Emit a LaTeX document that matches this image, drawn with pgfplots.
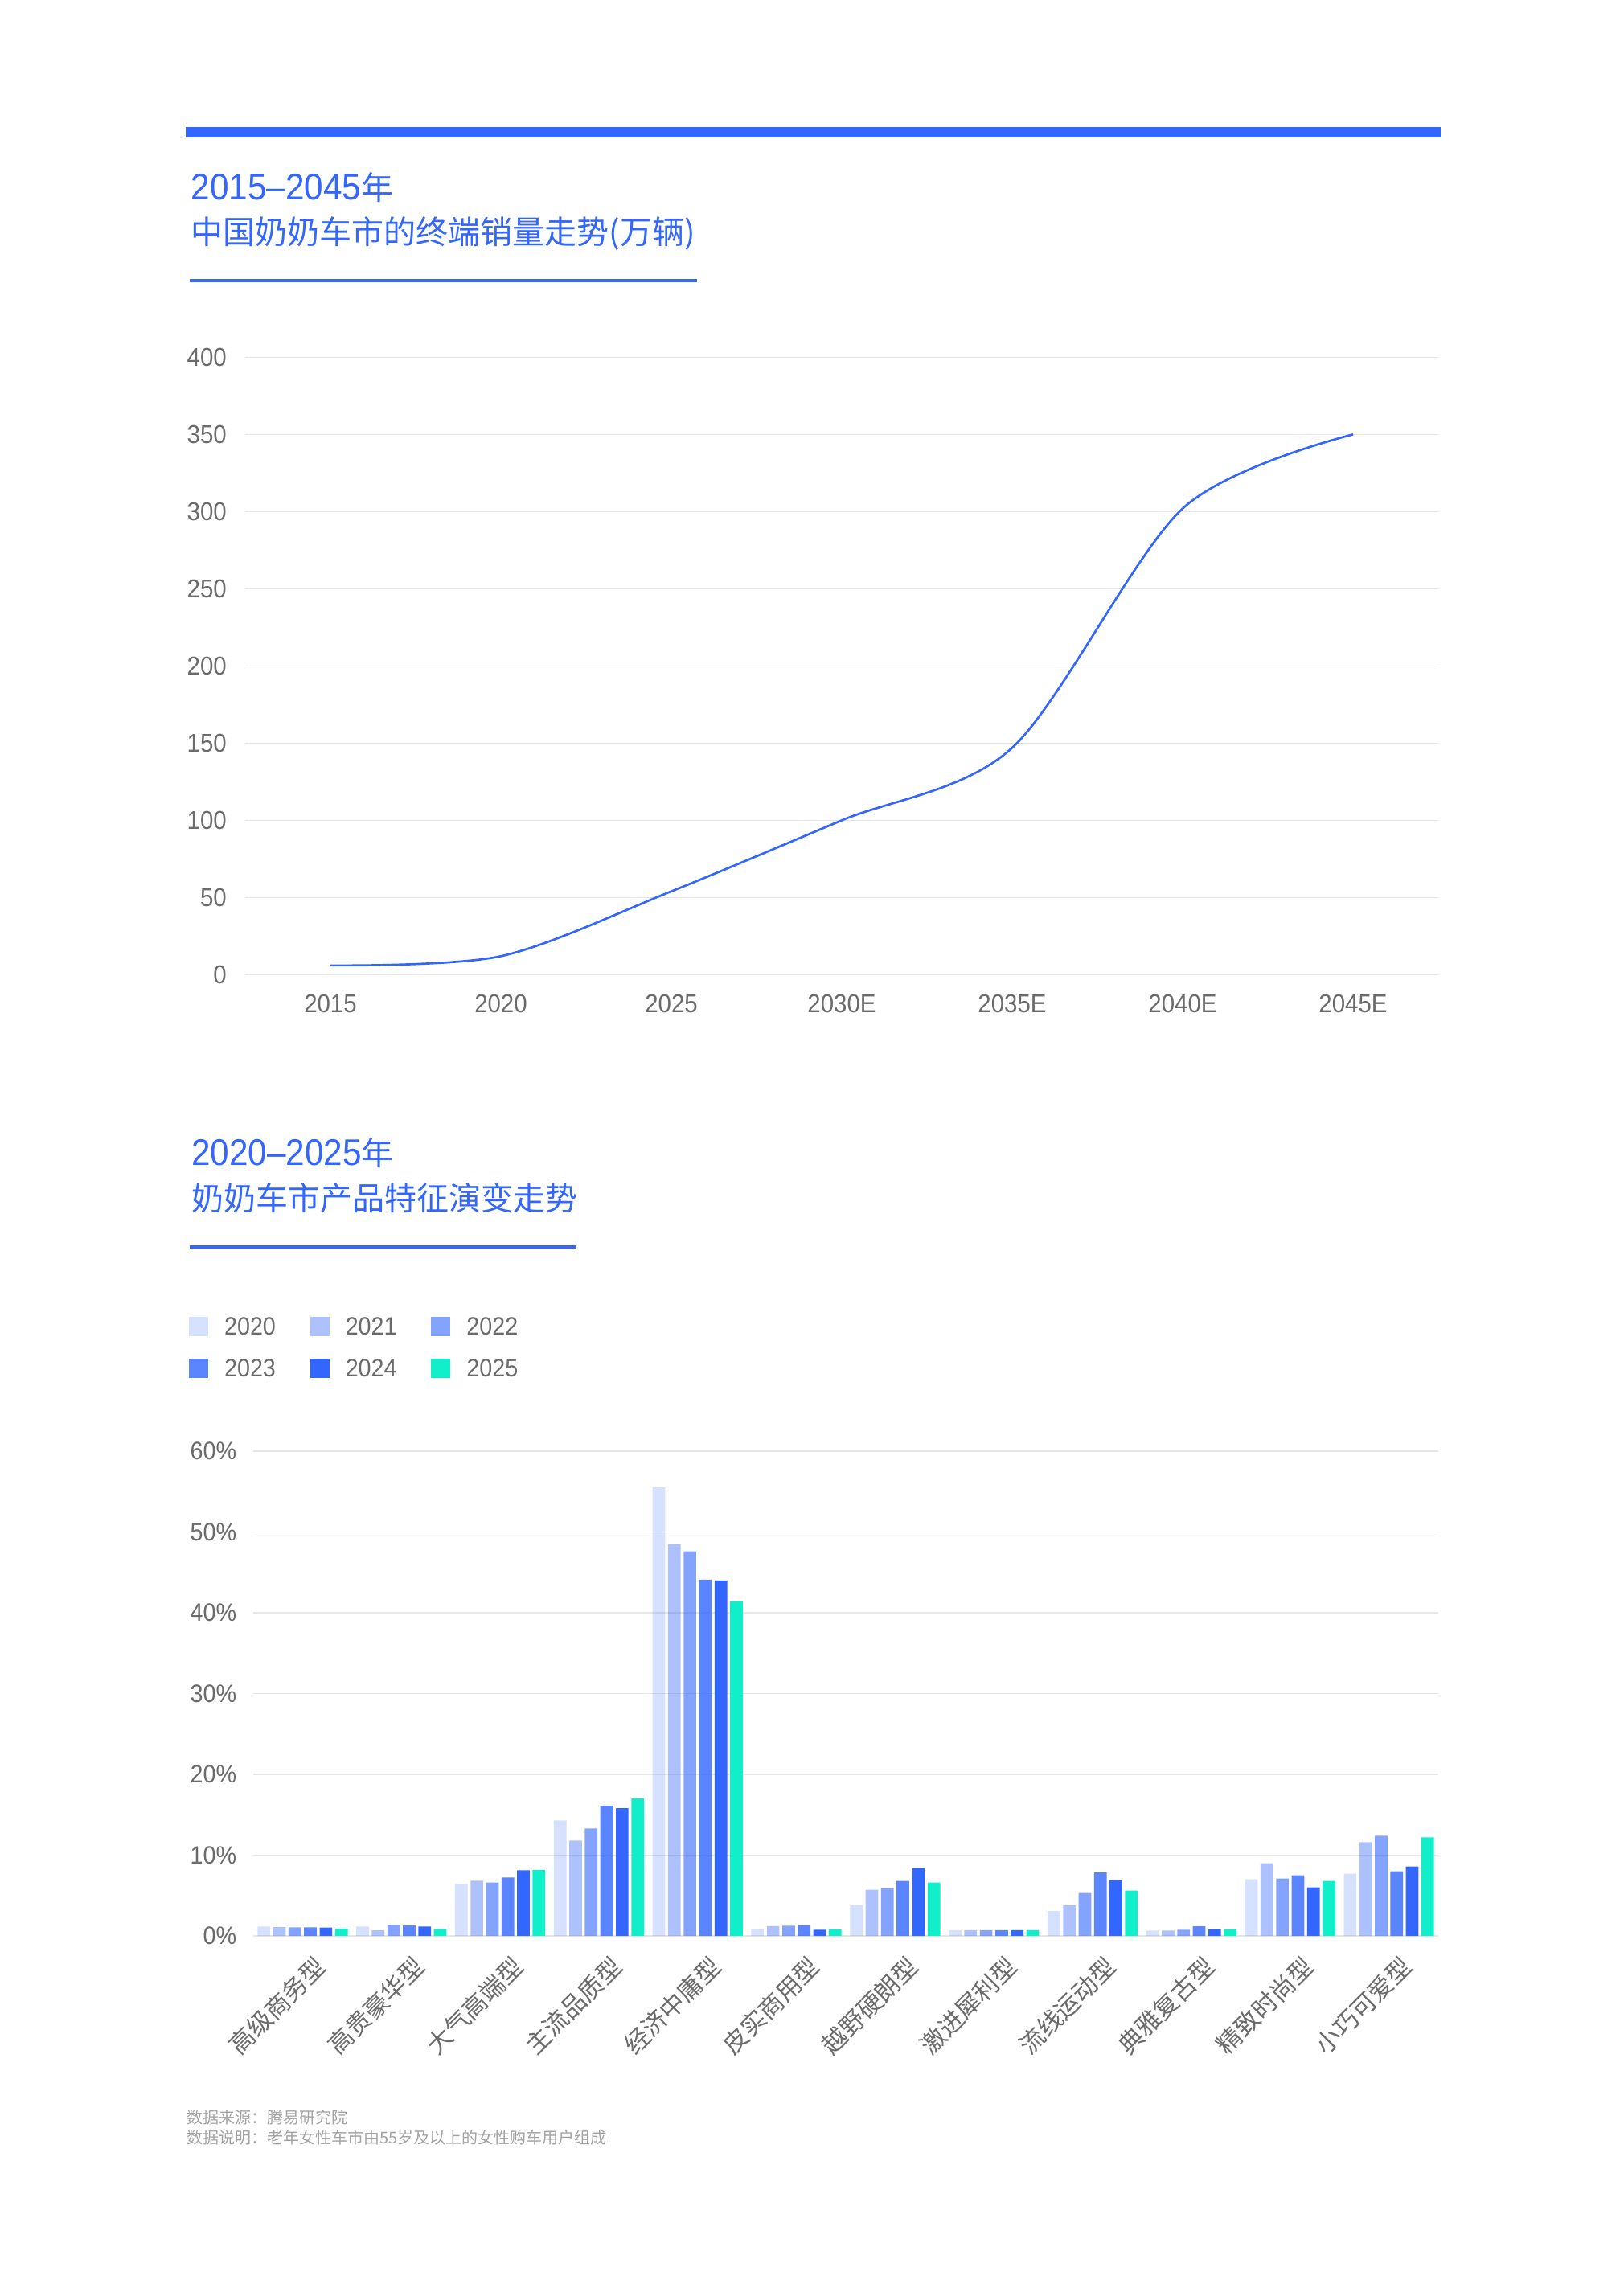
\documentclass[border=0pt]{standalone}
\usepackage{fontspec}
\setmainfont{Liberation Sans}[FakeStretch=0.92]
\newfontfamily\cjk{Noto Sans CJK SC}
\usepackage{pgfplots}
\usepackage{pgfplotstable}
\pgfplotsset{compat=1.18}
\definecolor{mblue}{HTML}{3366FF}
\definecolor{mteal}{HTML}{10EFCA}
\definecolor{tgray}{HTML}{6B6B6B}
\definecolor{fgray}{HTML}{A3A3A3}
\definecolor{ggray}{HTML}{E6E6E6}

\pgfplotstableread{
ya yb yc yd ye yf
1.16 1.09 1.06 1.06 1.03 0.89
1.16 0.69 1.35 1.29 1.16 0.86
6.44 6.83 6.60 7.23 8.12 8.18
14.3 11.8 13.3 16.1 15.8 17.0
55.5 48.5 47.6 44.1 44.0 41.4
0.80 1.20 1.26 1.30 0.76 0.80
3.8 5.7 5.9 6.8 8.4 6.6
0.70 0.70 0.70 0.70 0.70 0.70
3.06 3.8 5.3 7.85 6.9 5.6
0.67 0.67 0.76 1.18 0.80 0.80
7.0 9.0 7.1 7.5 6.0 6.8
7.7 11.6 12.4 8.0 8.6 12.2
}\bardata

\pgfplotsset{
  sq/.style={legend image code/.code={\fill[##1] (0pt,-0.3pt) rectangle (6pt,5.7pt);}},
}

\begin{document}
\begin{tikzpicture}
\fill[white] (0,0) rectangle (505pt,709pt);
% top bar
\fill[mblue] (57.7pt,666.3pt) rectangle (448pt,669.4pt);
% title 1
\node[anchor=base west, inner sep=0pt, text=mblue] at (59.2pt,646.9pt)
  {\fontsize{11.5pt}{13pt}\selectfont 2015--2045{\cjk\fontsize{10pt}{12pt}\selectfont 年}};
\node[anchor=base west, inner sep=0pt, text=mblue] at (59.2pt,633.2pt)
  {\cjk\fontsize{10pt}{12pt}\selectfont 中国奶奶车市的终端销量走势(万辆)};
\fill[mblue] (58.9pt,621.3pt) rectangle (216.75pt,622.3pt);
% title 2
\node[anchor=base west, inner sep=0pt, text=mblue] at (59.3pt,346.5pt)
  {\fontsize{11.5pt}{13pt}\selectfont 2020--2025{\cjk\fontsize{10pt}{12pt}\selectfont 年}};
\node[anchor=base west, inner sep=0pt, text=mblue] at (59.3pt,332.6pt)
  {\cjk\fontsize{10pt}{12pt}\selectfont 奶奶车市产品特征演变走势};
\fill[mblue] (58.9pt,320.8pt) rectangle (179.25pt,321.75pt);
% footer
\node[anchor=base west, inner sep=0pt, text=fgray] at (57.9pt,48.6pt)
  {\cjk\fontsize{5pt}{6pt}\selectfont 数据来源：腾易研究院};
\node[anchor=base west, inner sep=0pt, text=fgray] at (57.9pt,42.35pt)
  {\cjk\fontsize{5pt}{6pt}\selectfont 数据说明：老年女性车市由55岁及以上的女性购车用户组成};

% line chart
\begin{axis}[
  at={(76.25pt,405.9pt)}, anchor=south west, scale only axis,
  width=371pt, height=192pt,
  xmin=2012.5, xmax=2047.5, ymin=0, ymax=400,
  xtick={2015,2020,2025,2030,2035,2040,2045},
  xticklabels={2015,2020,2025,2030E,2035E,2040E,2045E},
  ytick={0,50,100,150,200,250,300,350,400},
  yticklabels={0,50,100,150,200,250,300,350,400},
  axis line style={draw=none}, major tick length=0pt,
  ymajorgrids, grid style={ggray, line width=0.33pt},
  tick label style={text=tgray, font=\fontsize{8pt}{9pt}\selectfont, inner sep=0pt},
  yticklabel style={anchor=east, xshift=-5.6pt},
  xticklabel style={anchor=north, yshift=-6pt},
  clip=false,
]
\addplot[mblue, line width=0.67pt, smooth] coordinates {
  (2015,6) (2020,12) (2025,54) (2030,100) (2035,147) (2040,302) (2045,350)};
\end{axis}

% bar chart
\begin{axis}[
  at={(78.75pt,107pt)}, anchor=south west, scale only axis,
  width=368.5pt, height=150.75pt,
  xmin=-0.5, xmax=11.5, ymin=0, ymax=60,
  ybar=0.9pt, bar width=3.925pt,
  xtick={0,1,2,3,4,5,6,7,8,9,10,11},
  xticklabels={高级商务型,高贵豪华型,大气高端型,主流品质型,经济中庸型,皮实商用型,越野硬朗型,激进犀利型,流线运动型,典雅复古型,精致时尚型,小巧可爱型},
  ytick={0,10,20,30,40,50,60},
  yticklabels={0\%,10\%,20\%,30\%,40\%,50\%,60\%},
  axis line style={draw=none}, major tick length=0pt,
  ymajorgrids, grid style={ggray, line width=0.33pt},
  tick label style={text=tgray, font=\fontsize{7.8pt}{9pt}\selectfont, inner sep=0pt},
  yticklabel style={anchor=east, xshift=-5pt},
  xticklabel style={font=\cjk\fontsize{7.7pt}{8pt}\selectfont, rotate=45, anchor=north east, xshift=-1.5pt, yshift=-6pt},
  legend columns=3,
  legend style={at={(-0.05475,1.2791)}, anchor=north west, draw=none, fill=none,
    inner sep=0pt, text=tgray, font=\fontsize{7.8pt}{9pt}\selectfont,
    nodes={inner sep=0pt, anchor=base west},
    /tikz/every odd column/.append style={column sep=5pt},
    /tikz/every even column/.append style={column sep=10.7pt},
    row sep=5.8pt},
  clip=false,
]
\addplot[fill=mblue, fill opacity=0.2, draw=none, sq] table[x expr=\coordindex, y=ya] {\bardata};
\addplot[fill=mblue, fill opacity=0.4, draw=none, sq] table[x expr=\coordindex, y=yb] {\bardata};
\addplot[fill=mblue, fill opacity=0.6, draw=none, sq] table[x expr=\coordindex, y=yc] {\bardata};
\addplot[fill=mblue, fill opacity=0.8, draw=none, sq] table[x expr=\coordindex, y=yd] {\bardata};
\addplot[fill=mblue, draw=none, sq] table[x expr=\coordindex, y=ye] {\bardata};
\addplot[fill=mteal, draw=none, sq] table[x expr=\coordindex, y=yf] {\bardata};
\legend{2020,2021,2022,2023,2024,2025}
\end{axis}
\end{tikzpicture}
\end{document}
